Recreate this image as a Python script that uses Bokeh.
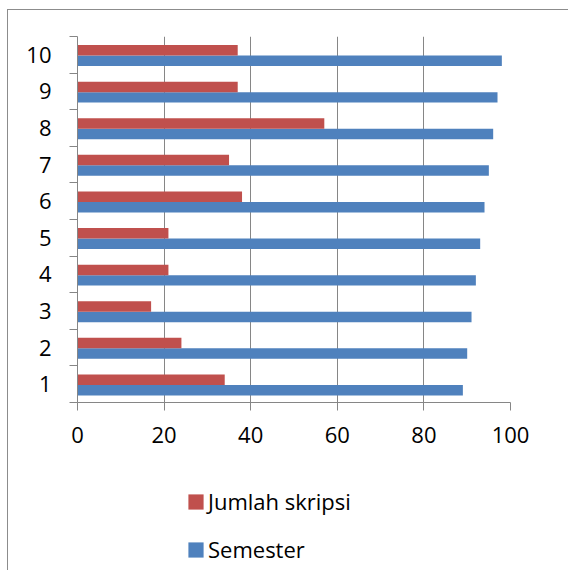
import numpy as np
from bokeh.plotting import figure
from bokeh.layouts import column
from bokeh.models import ColumnDataSource, Range1d, FixedTicker, Legend, LegendItem
from bokeh.embed import file_html
from bokeh.resources import INLINE

# ---- data ----
categories = ["1", "2", "3", "4", "5", "6", "7", "8", "9", "10"]
semester = [89, 90, 91, 92, 93, 94, 95, 96, 97, 98]
jumlah_skripsi = [34, 24, 17, 21, 21, 38, 35, 57, 37, 37]
x_ticks = [0, 20, 40, 60, 80, 100]
series_names = ["Jumlah skripsi", "Semester"]

# ---- style ----
BLUE = "#4F81BD"
RED = "#C0504D"
GRID = "#868686"
FONT = "Open Sans"
FS = "22px"

n = len(categories)
centers = np.arange(n) + 0.5
bar_h = 0.286
off = 0.143

src = ColumnDataSource(dict(
    cat=categories,
    sem=semester,
    skr=jumlah_skripsi,
    y_sem=centers - off - 0.02,
    y_skr=centers + off - 0.02,
))

W = 560
H1 = 460
p = figure(width=W, height=H1, output_backend="svg", toolbar_location=None,
           x_range=Range1d(0, 100), y_range=Range1d(0, n),
           min_border_left=69, min_border_right=W - 502,
           min_border_top=26, min_border_bottom=H1 - 392)
p.outline_line_color = None
p.background_fill_color = "white"
p.border_fill_color = "white"

r_sem = p.hbar(y="y_sem", left=0, right="sem", height=bar_h, source=src,
               fill_color=BLUE, line_color=None)
r_skr = p.hbar(y="y_skr", left=0, right="skr", height=bar_h, source=src,
               fill_color=RED, line_color=None)

# x axis
xa = p.xaxis[0]
xa.ticker = FixedTicker(ticks=x_ticks)
xa.axis_line_color = GRID
xa.major_tick_line_color = GRID
xa.major_tick_out = 8
xa.major_tick_in = 0
xa.minor_tick_out = 0
xa.minor_tick_in = 0
xa.major_label_text_font = FONT
xa.major_label_text_font_size = FS
xa.major_label_text_color = "black"
xa.major_label_standoff = 16

# y axis: labels at category centres, ticks at boundaries
ya = p.yaxis[0]
ya.ticker = FixedTicker(ticks=[float(c) for c in centers],
                        minor_ticks=[float(i) for i in range(n + 1)])
ya.major_label_overrides = {float(c): cat for c, cat in zip(centers, categories)}
ya.axis_line_color = GRID
ya.major_tick_line_color = None
ya.major_tick_out = 8
ya.major_tick_in = 0
ya.minor_tick_line_color = GRID
ya.minor_tick_out = 8
ya.minor_tick_in = 0
ya.major_label_text_font = FONT
ya.major_label_text_font_size = FS
ya.major_label_text_color = "black"
ya.major_label_standoff = 18

p.xgrid.ticker = FixedTicker(ticks=x_ticks[1:])
p.xgrid.grid_line_color = GRID
p.ygrid.visible = False

# ---- legend panel ----
H2 = 100
p2 = figure(width=W, height=H2, output_backend="svg", toolbar_location=None,
            x_range=Range1d(0, 100), y_range=Range1d(0, n),
            x_axis_type=None, y_axis_type=None,
            min_border=0, min_border_left=0, min_border_right=0,
            min_border_top=0, min_border_bottom=0)
p2.outline_line_color = None
p2.background_fill_color = "white"
p2.border_fill_color = "white"
l_skr = p2.hbar(y="y_skr", left=0, right="skr", height=bar_h, source=src,
                fill_color=RED, line_color=None, visible=False)
l_sem = p2.hbar(y="y_sem", left=0, right="sem", height=bar_h, source=src,
                fill_color=BLUE, line_color=None, visible=False)

legend = Legend(items=[LegendItem(label=series_names[0], renderers=[l_skr]),
                       LegendItem(label=series_names[1], renderers=[l_sem])],
                location=(109, 6), orientation="vertical",
                glyph_width=19, glyph_height=19, label_standoff=3,
                label_height=25, spacing=18, padding=0, margin=0,
                border_line_color=None, background_fill_alpha=0,
                label_text_font=FONT, label_text_font_size=FS,
                label_text_color="black", click_policy="none")
p2.add_layout(legend, "center")

layout = column(p, p2, spacing=0)
layout.styles = {"margin-left": "7px", "margin-top": "9px",
                 "border-top": "1px solid #8c8c8c",
                 "border-left": "1px solid #8c8c8c"}

with open("out.html", "w") as f:
    f.write(file_html(layout, INLINE))
